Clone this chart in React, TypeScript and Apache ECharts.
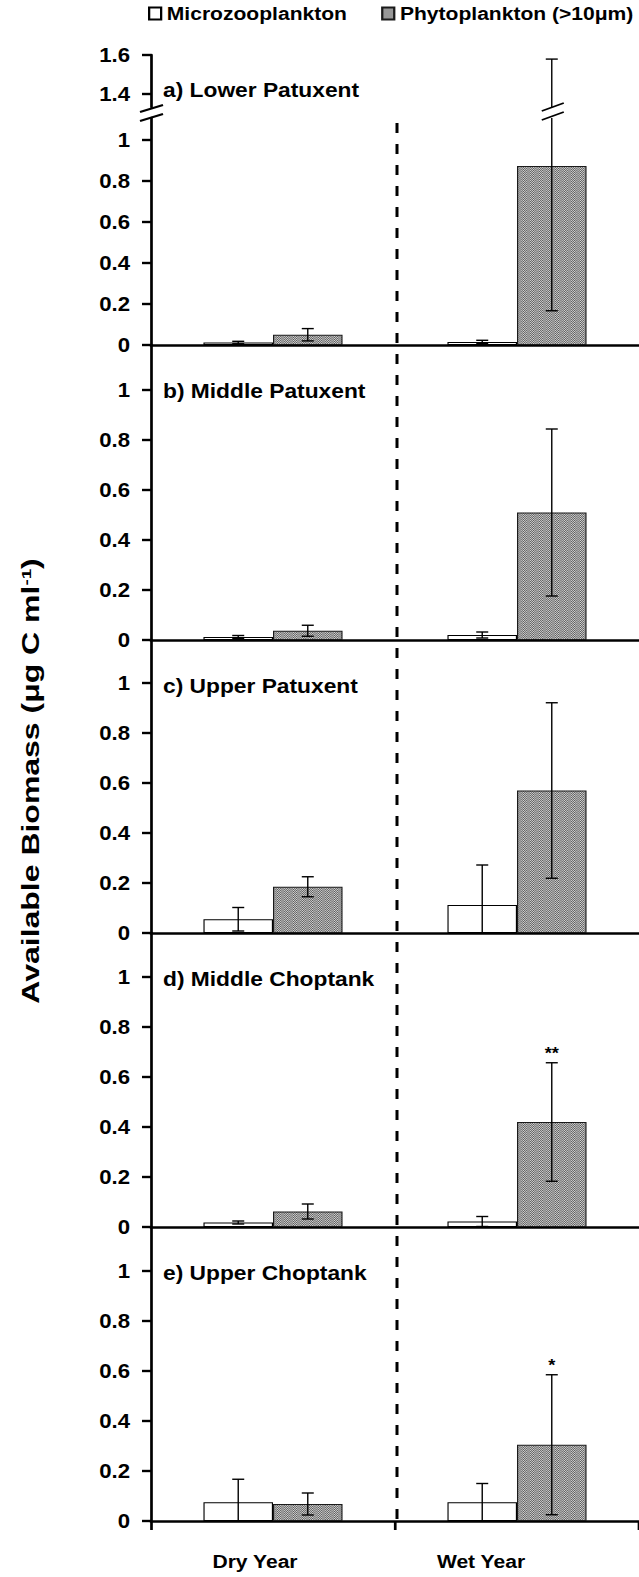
import React, { useEffect, useRef } from 'react';
import * as echarts from 'echarts';

// ---------------- data ----------------
const categories = ['Dry Year', 'Wet Year'];
const seriesNames = ['Microzooplankton', 'Phytoplankton (>10μm)'];
const panelNames = [
  'a) Lower Patuxent',
  'b) Middle Patuxent',
  'c) Upper Patuxent',
  'd) Middle Choptank',
  'e) Upper Choptank',
];
// [Dry, Wet] per panel
const microMean = [[0.012, 0.015], [0.012, 0.02], [0.055, 0.112], [0.018, 0.022], [0.075, 0.075]];
const microErr = [[0.006, 0.008], [0.006, 0.012], [0.047, 0.16], [0.006, 0.02], [0.092, 0.075]];
const phytoMean = [[0.05, 0.873], [0.037, 0.51], [0.185, 0.57], [0.062, 0.42], [0.068, 0.305]];
const phytoErr = [[0.03, 0.706], [0.022, 0.334], [0.04, 0.351], [0.03, 0.237], [0.044, 0.28]];
const phytoSig = [['', ''], ['', ''], ['', ''], ['', '**'], ['', '*']];
const yTickValues = [0, 0.2, 0.4, 0.6, 0.8, 1];
const yBreakTickValues = [1.4, 1.6];
const panelYMax = [1.107, 1.18, 1.172, 1.176, 1.176];
const breakYRange = [1.333, 1.6];
const yTitleMain = 'Available Biomass (μg C ml';
const yTitleSup = '-1';

// ---------------- layout / style ----------------
const SX = 639 / 561; // horizontal stretch of the whole drawing
const LW = 561;
const H = 1577;
const lx = (x: number) => x / SX;
const FONT = "'Liberation Sans', Arial, Helvetica, sans-serif";
const GRID_LEFT = lx(151);
const GRID_WIDTH = lx(492);
const panelTop = [118, 345, 640, 933, 1227];
const panelBottom = [345, 640, 933, 1227, 1521];
const BREAK_TOP = 55;
const BREAK_BOTTOM = 107;
const BAR_FRAC = 0.285;
const DIV_X = GRID_LEFT + GRID_WIDTH / 2;

function makePattern() {
  const c = document.createElement('canvas');
  c.width = 2;
  c.height = 2;
  const ctx = c.getContext('2d')!;
  ctx.fillStyle = '#d4d4d4';
  ctx.fillRect(0, 0, 2, 2);
  ctx.fillStyle = '#5a5a5a';
  ctx.fillRect(0, 0, 1, 1);
  ctx.fillRect(1, 1, 1, 1);
  return { image: c, repeat: 'repeat', imageWidth: 2, imageHeight: 2 } as any;
}

const makeErrorBars = (p: number, yMin: number, yMax: number) => (params: any, api: any) => {
  const cat = api.value(0) as number;
  const mean = api.value(1) as number;
  const err = api.value(2) as number;
  const side = api.value(3) as number;
  const hiV = mean + err;
  const loV = mean - err;
  const topV = Math.min(hiV, yMax);
  const botV = Math.max(loV, yMin);
  if (!(topV > botV)) return null;
  const band = api.size([1, 0])[0];
  const half = (band * BAR_FRAC) / 2;
  const cx = api.coord([cat, yMin])[0] + (side === 0 ? -half : half);
  const yTop = api.coord([cat, topV])[1];
  const yBot = api.coord([cat, botV])[1];
  const vStyle = { stroke: '#000', lineWidth: lx(1.4) };
  const hStyle = { stroke: '#000', lineWidth: 1.4 };
  const cw = lx(6);
  const children: any[] = [
    { type: 'line', shape: { x1: cx, y1: yBot, x2: cx, y2: yTop }, style: vStyle },
  ];
  if (hiV <= yMax) {
    children.push({ type: 'line', shape: { x1: cx - cw, y1: yTop, x2: cx + cw, y2: yTop }, style: hStyle });
  } else {
    const sStyle = { stroke: '#000', lineWidth: 1.6 };
    children.push({ type: 'line', shape: { x1: cx - lx(10), y1: yTop + 2, x2: cx + lx(12), y2: yTop - 6 }, style: sStyle });
    children.push({ type: 'line', shape: { x1: cx - lx(10), y1: yTop - 7, x2: cx + lx(12), y2: yTop - 15 }, style: sStyle });
  }
  if (loV >= yMin) {
    children.push({ type: 'line', shape: { x1: cx - cw, y1: yBot, x2: cx + cw, y2: yBot }, style: hStyle });
  }
  const sig = side === 1 ? phytoSig[p][cat] : '';
  if (sig && hiV <= yMax) {
    children.push({
      type: 'text',
      x: cx,
      y: yTop - 1,
      style: {
        text: sig,
        font: `bold 16px ${FONT}`,
        fill: '#000',
        align: 'center',
        verticalAlign: 'bottom',
        textAlign: 'center',
        textVerticalAlign: 'bottom',
      },
    });
  }
  return { type: 'group', children };
};

function errData(p: number) {
  const d: number[][] = [];
  for (let c = 0; c < categories.length; c++) d.push([c, microMean[p][c], microErr[p][c], 0]);
  for (let c = 0; c < categories.length; c++) d.push([c, phytoMean[p][c], phytoErr[p][c], 1]);
  return d;
}

function makeYAxis(g: number, min: number, max: number, ticks: number[]) {
  return {
    type: 'value',
    gridIndex: g,
    min,
    max,
    axisLine: { show: true, lineStyle: { color: '#000', width: lx(2.7) } },
    axisTick: { show: true, length: lx(9), customValues: ticks, lineStyle: { color: '#000', width: 2.4 } },
    axisLabel: {
      customValues: ticks,
      color: '#000',
      fontSize: 19.5,
      fontWeight: 'bold',
      fontFamily: FONT,
      margin: lx(21),
    },
    splitLine: { show: false },
  };
}

function buildOption() {
  const pattern = makePattern();
  const grid: any[] = [];
  const xAxis: any[] = [];
  const yAxis: any[] = [];
  const series: any[] = [];
  for (let p = 0; p < panelNames.length; p++) {
    grid.push({ left: GRID_LEFT, width: GRID_WIDTH, top: panelTop[p], height: panelBottom[p] - panelTop[p] });
    xAxis.push({
      type: 'category',
      gridIndex: p,
      data: categories,
      boundaryGap: true,
      axisLine: { show: true, onZero: false, lineStyle: { color: '#000', width: 2.6 } },
      axisTick: { show: p === panelNames.length - 1, length: 9, lineStyle: { color: '#000', width: lx(2.7) } },
      axisLabel: { show: false },
      splitLine: { show: false },
    });
    yAxis.push(makeYAxis(p, 0, panelYMax[p], yTickValues));
    series.push({
      type: 'bar',
      name: seriesNames[0],
      xAxisIndex: p,
      yAxisIndex: p,
      data: microMean[p],
      barWidth: `${BAR_FRAC * 100}%`,
      barGap: '0%',
      silent: true,
      itemStyle: { color: '#ffffff', borderColor: '#000', borderWidth: 1 },
    });
    series.push({
      type: 'bar',
      name: seriesNames[1],
      xAxisIndex: p,
      yAxisIndex: p,
      data: phytoMean[p],
      barWidth: `${BAR_FRAC * 100}%`,
      barGap: '0%',
      silent: true,
      itemStyle: { color: pattern, borderColor: '#1a1a1a', borderWidth: 1 },
    });
    series.push({
      type: 'custom',
      xAxisIndex: p,
      yAxisIndex: p,
      z: 5,
      clip: false,
      silent: true,
      renderItem: makeErrorBars(p, 0, panelYMax[p]),
      data: errData(p),
      encode: { x: 0, y: 1 },
    });
  }
  // upper (broken) part of panel a
  const gB = panelNames.length;
  grid.push({ left: GRID_LEFT, width: GRID_WIDTH, top: BREAK_TOP, height: BREAK_BOTTOM - BREAK_TOP });
  xAxis.push({ type: 'category', gridIndex: gB, data: categories, show: false });
  yAxis.push(makeYAxis(gB, breakYRange[0], breakYRange[1], yBreakTickValues));
  series.push({
    type: 'custom',
    xAxisIndex: gB,
    yAxisIndex: gB,
    z: 5,
    clip: false,
    silent: true,
    renderItem: makeErrorBars(0, breakYRange[0], breakYRange[1]),
    data: errData(0),
    encode: { x: 0, y: 1 },
  });

  const graphic: any[] = [
    {
      type: 'line',
      z: 10,
      silent: true,
      shape: { x1: DIV_X, y1: 123, x2: DIV_X, y2: panelBottom[4] + 9 },
      style: { stroke: '#000', lineWidth: lx(3), lineDash: [10, 11] },
    },
    {
      type: 'line',
      z: 10,
      silent: true,
      shape: { x1: lx(140), y1: 121, x2: lx(163), y2: 114 },
      style: { stroke: '#000', lineWidth: 2 },
    },
    {
      type: 'line',
      z: 10,
      silent: true,
      shape: { x1: lx(140), y1: 112, x2: lx(163), y2: 105 },
      style: { stroke: '#000', lineWidth: 2 },
    },
  ];
  const labelY = [BREAK_TOP + 35, panelTop[1] + 46.5, panelTop[2] + 46.5, panelTop[3] + 46.5, panelTop[4] + 46.5];
  panelNames.forEach((t, i) => {
    graphic.push({
      type: 'text',
      silent: true,
      x: lx(163),
      y: labelY[i],
      style: {
        text: t,
        font: `bold 20px ${FONT}`,
        fill: '#000',
        align: 'left',
        verticalAlign: 'middle',
        textAlign: 'left',
        textVerticalAlign: 'middle',
      },
    });
  });
  const xLabelX = [lx(255), lx(481)];
  categories.forEach((c, i) => {
    graphic.push({
      type: 'text',
      silent: true,
      x: xLabelX[i],
      y: 1561,
      style: {
        text: c,
        font: `bold 18.5px ${FONT}`,
        fill: '#000',
        align: 'center',
        verticalAlign: 'middle',
        textAlign: 'center',
        textVerticalAlign: 'middle',
      },
    });
  });
  graphic.push({
    type: 'text',
    silent: true,
    x: lx(31),
    y: 781,
    rotation: Math.PI / 2,
    scaleX: 1.56,
    style: {
      text: `${yTitleMain}{sup|${yTitleSup}})`,
      font: `bold 20.5px ${FONT}`,
      fill: '#000',
      align: 'center',
      verticalAlign: 'middle',
      textAlign: 'center',
      textVerticalAlign: 'middle',
      rich: {
        sup: { fontSize: 12, fontWeight: 'bold', fontFamily: FONT, verticalAlign: 'top', fill: '#000' },
      },
    },
  });

  return {
    animation: false,
    backgroundColor: '#ffffff',
    legend: {
      data: seriesNames,
      left: lx(148),
      top: 4,
      padding: 0,
      itemWidth: lx(12),
      itemHeight: 12,
      itemGap: lx(34),
      icon: 'rect',
      selectedMode: false,
      textStyle: { fontSize: 18.5, fontWeight: 'bold', fontFamily: FONT, color: '#000' },
    },
    grid,
    xAxis,
    yAxis,
    series,
    graphic,
  };
}

export default function App() {
  const ref = useRef<HTMLDivElement>(null);
  useEffect(() => {
    document.body.style.margin = '0';
    const chart = echarts.init(ref.current!, null, { renderer: 'svg', width: LW, height: H });
    chart.setOption(buildOption() as any);
    return () => chart.dispose();
  }, []);
  return (
    <div style={{ position: 'absolute', left: 0, top: 0, width: 639, height: H, overflow: 'hidden', background: '#fff' }}>
      <div
        ref={ref}
        style={{ width: LW, height: H, transform: `scaleX(${SX})`, transformOrigin: '0 0' }}
      />
    </div>
  );
}
